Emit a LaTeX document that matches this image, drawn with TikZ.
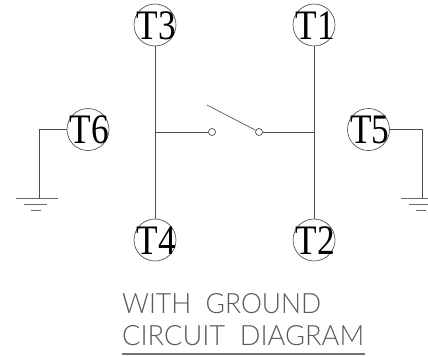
\documentclass[tikz,border=0pt]{standalone}
\usepackage{fontspec}
\setmainfont{Liberation Serif}
\newfontfamily\capfont{Lato Light}
\newcommand\termlab[1]{\makebox[0pt]{\hspace{3pt}\raisebox{-14pt}[0pt][0pt]{\scalebox{.84}[1]{\fontsize{42}{42}\selectfont #1}}}}
\tikzset{
  terminal/.style={circle,draw=black!75,line width=.6pt,minimum size=42pt,inner sep=0pt,text=black},
  contact/.style={circle,draw=black!70,line width=.7pt,minimum size=7pt,inner sep=0pt},
  wire/.style={draw=black!70,line width=1pt},
  blade/.style={draw=black!65,line width=.7pt},
  gnd/.style={draw=black!60,line width=1pt},
  caption/.style={inner sep=0pt,text=black!65,anchor=base west},
}
\begin{document}
\begin{tikzpicture}[x=1pt,y=-1pt]
\useasboundingbox (0,0) rectangle (428,356);
\begin{scope}
\clip (0,0) rectangle (428,356);
\node[terminal] (T3) at (155,25) {\termlab{T3}};
\node[terminal] (T1) at (314,25) {\termlab{T1}};
\node[terminal] (T4) at (155,240) {\termlab{T4}};
\node[terminal] (T2) at (314,240) {\termlab{T2}};
\node[terminal] (T6) at (88,129.5) {\termlab{T6}};
\node[terminal] (T5) at (368.5,129.5) {\termlab{T5}};
\node[contact] (cl) at (212,132) {};
\node[contact] (cr) at (259,132) {};
\coordinate (jl) at (155,132);
\coordinate (jr) at (314,132);
\coordinate (bladeend) at (207,105);
\draw[wire] (T3) -- (T4);
\draw[wire] (T1) -- (T2);
\draw[wire] (jl) -- (cl);
\draw[wire] (cr) -- (jr);
\draw[blade] (cr) -- (bladeend);
% left ground
\coordinate (gl) at (39.5,198);
\draw[wire] (T6.west) -- (39.5,129.5) -- (gl);
\draw[gnd] (16,198) -- (58,198);
\draw[gnd] (24,204) -- (47,204);
\draw[gnd] (31,210) -- (41,210);
% right ground
\coordinate (gr) at (422,198);
\draw[wire] (T5.east) -- (422,129.5) -- (gr);
\draw[gnd] (401,198) -- (443,198);
\draw[gnd] (409,204) -- (432,204);
\draw[gnd] (416,210) -- (426,210);
\end{scope}
\node[caption] (cap1) at (122,313) {\resizebox{199pt}{20pt}{\capfont WITH\ \ GROUND}};
\node[caption] (cap2) at (122,345) {\resizebox{242pt}{20pt}{\capfont CIRCUIT\ \ DIAGRAM}};
\draw[draw=black!55,line width=1.2pt] (122,354) -- (365,354);
\end{tikzpicture}
\end{document}
